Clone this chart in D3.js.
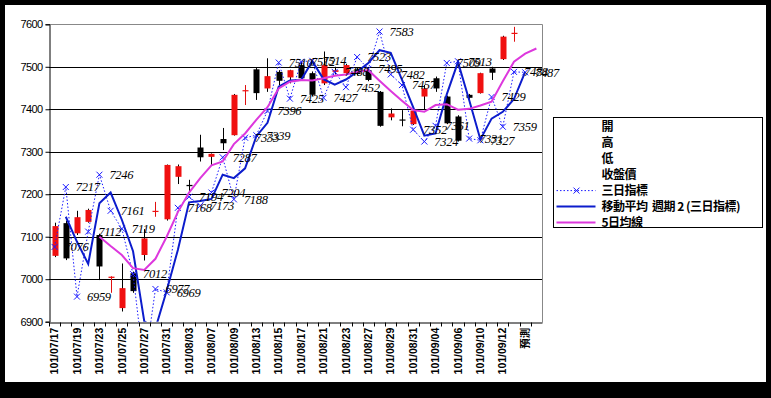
<!DOCTYPE html>
<html>
<head>
<meta charset="utf-8">
<script src="https://cdn.jsdelivr.net/npm/d3@7/dist/d3.min.js"></script>
<style>
body { margin: 0; background: #000; }
svg { display: block; }
</style>
</head>
<body>
<svg width="771" height="398"></svg>
<script>
// categories (last one is an empty slot after 預測)
var dates = ["101/07/17","101/07/18","101/07/19","101/07/20","101/07/23","101/07/24","101/07/25","101/07/26",
  "101/07/27","101/07/30","101/07/31","101/08/01","101/08/03","101/08/06","101/08/07","101/08/08","101/08/09",
  "101/08/10","101/08/13","101/08/14","101/08/15","101/08/16","101/08/17","101/08/20","101/08/21","101/08/22",
  "101/08/23","101/08/24","101/08/27","101/08/28","101/08/29","101/08/30","101/08/31","101/09/03","101/09/04",
  "101/09/05","101/09/06","101/09/07","101/09/10","101/09/11","101/09/12","101/09/13","預測",""];

var opens  = [7055,7132,7108,7135,7104,7003,6932,7014,7057,7160,7141,7241,7222,7310,7288,7330,7339,7443,7494,7449,
  7488,7475,7504,7485,7461,7488,7485,7494,7492,7441,7381,7376,7365,7430,7473,7430,7383,7434,7438,7496,7518,7578];
var highs  = [7133,7138,7161,7166,7107,7007,7037,7018,7118,7182,7270,7270,7234,7340,7296,7356,7436,7457,7497,7520,
  7492,7493,7512,7489,7536,7500,7507,7497,7495,7443,7402,7398,7400,7457,7477,7432,7386,7436,7486,7500,7573,7594];
var lows   = [7052,7045,7104,7133,6998,6968,6924,6968,7044,7147,7138,7224,7205,7277,7269,7304,7338,7410,7422,7441,
  7457,7461,7468,7430,7457,7482,7483,7480,7466,7359,7374,7360,7363,7398,7441,7365,7324,7424,7437,7469,7516,7559];
var closes = [7125,7049,7146,7163,7030,7006,6979,6972,7096,7161,7269,7266,7219,7287,7295,7320,7434,7445,7438,7478,
  7467,7492,7473,7434,7504,7492,7504,7483,7469,7361,7390,7375,7397,7449,7449,7367,7326,7427,7485,7486,7571,7580];

// 三日指標
var sanri = [7076,7217,6959,7112,7246,7161,7119,7012,6790,6977,6969,7168,7194,7173,7204,7287,7188,7333,7339,7396,
  7510,7425,7512,7514,7427,7488,7452,7523,7495,7583,7482,7457,7352,7324,7361,7509,7513,7331,7327,7429,7359,7488,7487];

// 移動平均 週期 2 (三日指標)
var ma2 = [null,7147,7088,7036,7179,7204,7140,7066,6901,6884,6973,7069,7181,7184,7189,7246,7238,7261,7336,7368,
  7453,7468,7469,7513,7471,7458,7470,7488,7509,7539,7533,7470,7405,7338,7343,7435,7511,7422,7329,7378,7394,7424,7488];

// 5日均線
var ma5 = [null,null,null,null,7100,7078,7057,7026,7022,7048,7100,7158,7204,7238,7268,7277,7318,7343,7375,7405,
  7449,7465,7469,7468,7473,7479,7482,7488,7492,7467,7443,7420,7398,7394,7410,7412,7399,7401,7409,7418,7466,7512,7531,7543];

var yTicks = [6900,7000,7100,7200,7300,7400,7500,7600];
var legendNames = ["開","高","低","收盤價","三日指標","移動平均  週期 2 (三日指標)","5日均線"];

var svg = d3.select("svg");
var plotLeft = 49, plotRight = 542, plotTop = 24.3, plotBottom = 321.7;

svg.append("rect").attr("width", 771).attr("height", 398).attr("fill", "#000");
svg.append("rect").attr("x", 5).attr("y", 5).attr("width", 761).attr("height", 377).attr("fill", "#fff");

var xScale = d3.scaleBand().domain(dates).range([plotLeft, plotRight]).padding(0);
var yScale = d3.scaleLinear().domain([6900, 7600]).range([plotBottom, plotTop]);
function cx(i) { return xScale(dates[i]) + xScale.bandwidth() / 2; }
function py(v) { return Math.round(yScale(v)) + 0.5; }

svg.append("defs").append("clipPath").attr("id", "plot")
   .append("rect").attr("x", plotLeft).attr("y", plotTop)
   .attr("width", plotRight - plotLeft).attr("height", plotBottom - plotTop);

// gridlines
svg.selectAll(".grid")
   .data(yTicks.filter(function(d) { return d > 6900 && d < 7600; }))
   .enter().append("line")
   .attr("x1", plotLeft).attr("x2", plotRight)
   .attr("y1", py).attr("y2", py)
   .attr("stroke", "#000").attr("stroke-width", 1);

// plot border top/right
svg.append("path")
   .attr("d", "M" + plotLeft + "," + py(7600) + "H" + (plotRight + 0.5) + "V" + py(6900))
   .attr("fill", "none").attr("stroke", "#888");

// y axis
var yAxis = svg.append("g")
   .attr("transform", "translate(" + (plotLeft + 0.5) + ",0)")
   .call(d3.axisLeft(yScale).tickValues(yTicks).tickSize(4).tickPadding(3).tickFormat(d3.format("d")));
yAxis.select(".domain").attr("stroke", "#000");
yAxis.selectAll("text")
   .attr("font-family", "Liberation Sans, Arial, sans-serif")
   .attr("font-size", "11px").attr("letter-spacing", "-0.6px").attr("fill", "#000");

// x axis
var xAxis = svg.append("g")
   .attr("transform", "translate(0," + py(6900) + ")")
   .call(d3.axisBottom(xScale).tickSize(0).tickFormat(""));
xAxis.select(".domain").attr("stroke", "#000");
svg.selectAll(".xtick")
   .data(dates)
   .enter().append("line")
   .attr("x1", function(d) { return Math.round(xScale(d)) + 0.5; })
   .attr("x2", function(d) { return Math.round(xScale(d)) + 0.5; })
   .attr("y1", py(6900)).attr("y2", py(6900) + 4)
   .attr("stroke", "#000");

svg.selectAll(".xlabel")
   .data(dates.filter(function(d, i) { return i % 2 == 0 && d != ""; }))
   .enter().append("text")
   .attr("transform", function(d) {
       return "translate(" + (xScale(d) + xScale.bandwidth() / 2) + "," + (plotBottom + 6) + ") rotate(-90)";
   })
   .attr("text-anchor", "end")
   .attr("dy", "0.35em")
   .attr("font-family", "Liberation Sans, Arial, 'Noto Sans CJK TC', sans-serif")
   .attr("font-size", "10.5px")
   .attr("font-weight", "bold")
   .text(function(d) { return d; });

// candles
var plot = svg.append("g").attr("clip-path", "url(#plot)");
var candles = plot.selectAll(".candle")
   .data(opens.map(function(o, i) { return i; }))
   .enter().append("g");
candles.append("line")
   .attr("x1", function(i) { return Math.round(cx(i)) + 0.5; })
   .attr("x2", function(i) { return Math.round(cx(i)) + 0.5; })
   .attr("y1", function(i) { return yScale(highs[i]); })
   .attr("y2", function(i) { return yScale(lows[i]); })
   .attr("stroke", function(i) { return closes[i] > opens[i] && Math.abs(closes[i] - opens[i]) < 4 ? "#e01010" : "#000"; })
   .attr("stroke-width", 1);
candles.append("rect")
   .attr("x", function(i) { return Math.round(cx(i)) - 2.5; })
   .attr("width", 6)
   .attr("y", function(i) { return yScale(Math.max(opens[i], closes[i])); })
   .attr("height", function(i) { return Math.max(1.2, Math.abs(yScale(opens[i]) - yScale(closes[i]))); })
   .attr("fill", function(i) { return closes[i] > opens[i] ? "#f01010" : "#000"; });

// 三日指標 dotted line
var idx = sanri.map(function(v, i) { return i; });
var tLine = d3.line().x(function(i) { return cx(i); }).y(function(i) { return yScale(sanri[i]); });
plot.append("path")
   .attr("d", tLine(idx))
   .attr("fill", "none").attr("stroke", "#1a1aff").attr("stroke-width", 1)
   .attr("stroke-dasharray", "1.5,2");
plot.selectAll(".mark")
   .data(idx)
   .enter().append("path")
   .attr("d", function(i) {
       var x = cx(i), y = yScale(sanri[i]);
       return "M" + (x - 3) + "," + (y - 3) + "L" + (x + 3) + "," + (y + 3) +
              "M" + (x - 3) + "," + (y + 3) + "L" + (x + 3) + "," + (y - 3);
   })
   .attr("stroke", "#1a1aff").attr("stroke-width", 1);

// 移動平均 週期 2
var maLine = function(arr) {
    return d3.line()
        .defined(function(i) { return arr[i] != null; })
        .x(function(i) { return cx(i); })
        .y(function(i) { return yScale(arr[i]); });
};
plot.append("path")
   .attr("d", maLine(ma2)(ma2.map(function(v, i) { return i; })))
   .attr("fill", "none").attr("stroke", "#0c1ccc").attr("stroke-width", 2);

// 5日均線
plot.append("path")
   .attr("d", maLine(ma5)(ma5.map(function(v, i) { return i; })))
   .attr("fill", "none").attr("stroke", "#dd38dd").attr("stroke-width", 2);

// value labels on 三日指標
svg.selectAll(".vlabel")
   .data(idx.filter(function(i) { return sanri[i] >= 6900; }))
   .enter().append("text")
   .attr("x", function(i) { return cx(i) + 10; })
   .attr("y", function(i) { return yScale(sanri[i]); })
   .attr("dy", "0.35em")
   .attr("font-family", "Liberation Serif, serif")
   .attr("font-style", "italic")
   .attr("font-size", "12.5px")
   .attr("letter-spacing", "-0.3px")
   .attr("fill", "#000")
   .text(function(i) { return sanri[i]; });

// legend
var lg = svg.append("g").attr("transform", "translate(553.5,117.5)");
lg.append("rect").attr("width", 209).attr("height", 110)
  .attr("fill", "#fff").attr("stroke", "#000");
var ly = function(k) { return 9.5 + k * 15.9; };
lg.selectAll("text")
  .data(legendNames)
  .enter().append("text")
  .attr("x", 48)
  .attr("y", function(d, i) { return ly(i); })
  .attr("dy", "0.35em")
  .attr("font-family", "'Noto Sans CJK TC', sans-serif")
  .attr("font-size", "12px")
  .attr("font-weight", "bold")
  .attr("letter-spacing", "-0.5px")
  .style("white-space", "pre")
  .text(function(d) { return d; });
lg.append("line").attr("x1", 3).attr("x2", 42).attr("y1", ly(4)).attr("y2", ly(4))
  .attr("stroke", "#1a1aff").attr("stroke-dasharray", "1.5,2");
lg.append("path")
  .attr("d", "M20," + (ly(4) - 3) + "l6,6M20," + (ly(4) + 3) + "l6,-6")
  .attr("stroke", "#1a1aff");
lg.append("line").attr("x1", 3).attr("x2", 42).attr("y1", ly(5)).attr("y2", ly(5))
  .attr("stroke", "#0c1ccc").attr("stroke-width", 2);
lg.append("line").attr("x1", 3).attr("x2", 42).attr("y1", ly(6)).attr("y2", ly(6))
  .attr("stroke", "#dd38dd").attr("stroke-width", 2);
</script>
</body>
</html>
